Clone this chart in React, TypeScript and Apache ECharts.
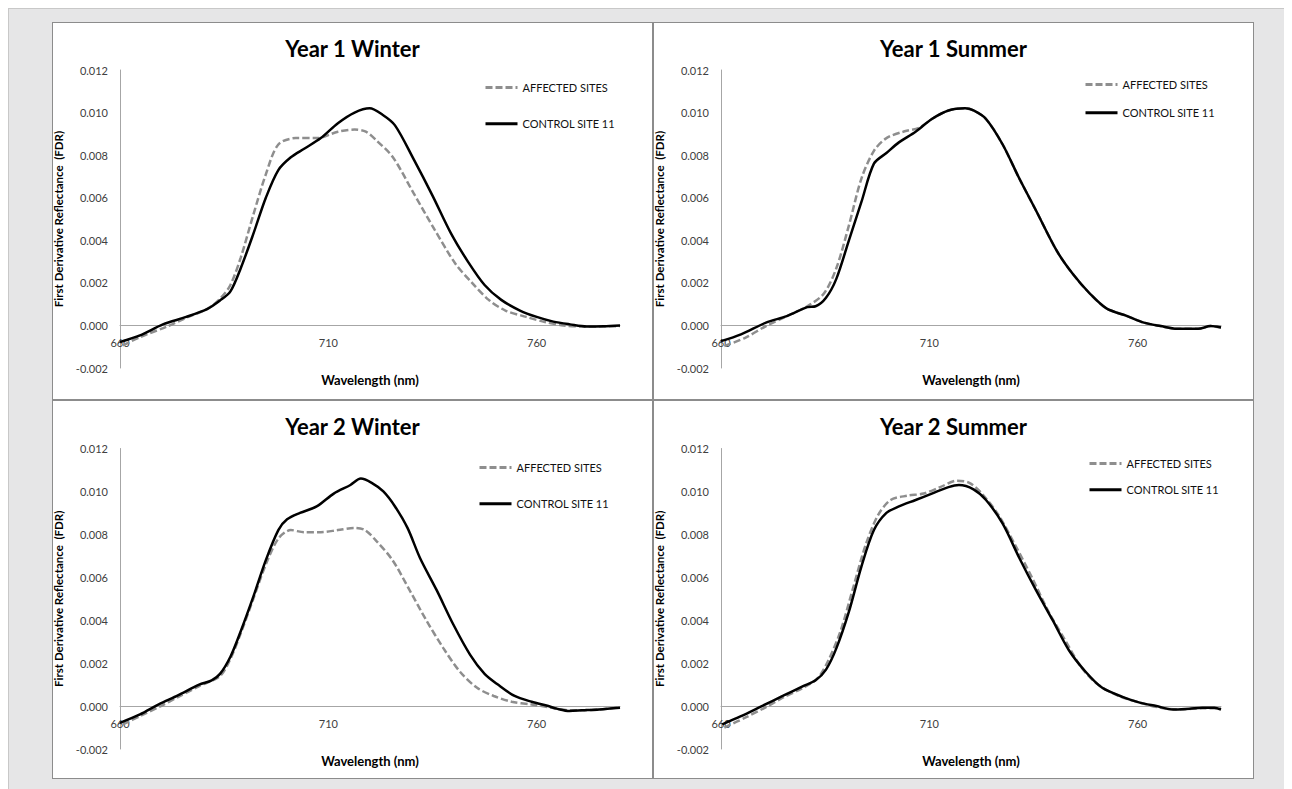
import React, { useEffect, useRef } from "react";
import * as echarts from "echarts";

const FONT = "Lato, 'Open Sans', sans-serif";
const X_LABELS = [660, 710, 760];
const X_MIN = 660;
const X_MAX = 780;
const Y_MIN = -0.002;
const Y_MAX = 0.012;
const Y_STEP = 0.002;
const SERIES_NAMES = ["AFFECTED SITES", "CONTROL SITE 11"];
const TITLES = ["Year 1 Winter", "Year 1 Summer", "Year 2 Winter", "Year 2 Summer"];

// [wavelength nm, FDR]
const Y1W_AFFECTED: [number, number][] = [
  [660.7, -0.00094], [664.8, -0.00055], [671.3, -0.00005], [675.9, 0.00036], [681, 0.00078],
  [684, 0.00125], [686.5, 0.0019], [689, 0.0032], [692, 0.0052], [695, 0.0071], [698, 0.0085],
  [702.2, 0.0088], [707.2, 0.0088], [712.3, 0.0091], [716.3, 0.0092], [719, 0.0091],
  [721.5, 0.0087], [725.5, 0.0079], [730.5, 0.0062], [735.5, 0.0045], [740.5, 0.0029],
  [744.5, 0.002], [748.5, 0.0012], [752.5, 0.0007], [757.5, 0.0004], [762, 0.00016],
  [766.5, 0.0], [770.9, -0.00005], [775, -0.00005], [780, -0.00003],
];
const Y1W_CONTROL: [number, number][] = [
  [660, -0.00078], [664.8, -0.00047], [670.3, 0.00005], [675.9, 0.0004], [681, 0.00078],
  [684, 0.00117], [686.5, 0.0016], [689, 0.0027], [692, 0.0043], [695, 0.006], [698, 0.0073],
  [701, 0.0079], [704.2, 0.0083], [708.2, 0.0088], [712.3, 0.0095], [716.3, 0.01],
  [719.9, 0.0102], [723, 0.0099], [726, 0.0094], [730.5, 0.0078], [735, 0.0061],
  [739.5, 0.0043], [743.5, 0.003], [747.5, 0.0019], [751.5, 0.0012], [756, 0.0007],
  [760, 0.0004], [764, 0.00018], [768, 0.00005], [772, -0.00005], [776, -0.00004], [780, 0.0],
];
const Y1S_AFFECTED: [number, number][] = [
  [660.8, -0.00097], [665.8, -0.00058], [670.8, -0.00003], [675.8, 0.00044], [680.7, 0.0009],
  [684.7, 0.0015], [687.7, 0.0027], [690.7, 0.0047], [693.7, 0.0069], [696.7, 0.0082],
  [699.7, 0.0088], [703.7, 0.0091], [707.7, 0.0093], [710.6, 0.0097], [714.6, 0.0101],
  [718.6, 0.0102], [720.6, 0.0101], [723.6, 0.0097], [727.6, 0.0085], [731.6, 0.0069],
  [735.6, 0.0054], [740.6, 0.0035], [744.5, 0.0024], [748.5, 0.0015], [752.5, 0.0008],
  [757.5, 0.00044], [761.5, 0.00013], [765.5, -0.00003], [769.5, -0.00016], [774.5, -0.00016],
  [777.5, -0.00003], [780, -0.0001],
];
const Y1S_CONTROL: [number, number][] = [
  [660, -0.00074], [664.8, -0.00042], [670.8, 0.00013], [675.8, 0.00044], [680.7, 0.00086],
  [682.7, 0.0009], [685.2, 0.0013], [687.7, 0.0022], [690.7, 0.004], [693.7, 0.0058],
  [696.7, 0.0076], [699.7, 0.0081], [702.7, 0.0086], [706.7, 0.0091], [710.6, 0.0097],
  [714.6, 0.0101], [718.6, 0.0102], [720.6, 0.0101], [723.6, 0.0097], [727.6, 0.0085],
  [731.6, 0.0069], [735.6, 0.0054], [740.6, 0.0035], [744.5, 0.0024], [748.5, 0.0015],
  [752.5, 0.0008], [757.5, 0.00044], [761.5, 0.00013], [765.5, -0.00003], [769.5, -0.00016],
  [774.5, -0.00016], [777.5, -0.00003], [780, -0.0001],
];
const Y2W_AFFECTED: [number, number][] = [
  [660.7, -0.00085], [664.8, -0.00047], [669.8, 0.0], [673.9, 0.00042], [679, 0.00093],
  [684, 0.0014], [686.5, 0.0022], [689, 0.0034], [692, 0.005], [695, 0.0066], [698, 0.0078],
  [701, 0.0082], [704.2, 0.0081], [708.2, 0.0081], [712.3, 0.0082], [716.3, 0.0083],
  [718.8, 0.0082], [721.5, 0.0077], [725.4, 0.0068], [729.5, 0.0054], [733.5, 0.004],
  [737.6, 0.0027], [741.6, 0.0016], [745.7, 0.00085], [749.7, 0.00047], [754, 0.0002],
  [758.5, 0.00008], [762.8, -0.00005], [767.9, -0.0002], [775, -0.00016], [780, -0.00005],
];
const Y2W_CONTROL: [number, number][] = [
  [660, -0.00078], [664.8, -0.00039], [669.3, 0.00008], [673.9, 0.0005], [679, 0.001],
  [682, 0.0012], [684, 0.0015], [686.5, 0.0023], [689, 0.0035], [692, 0.0051], [695, 0.0068],
  [698, 0.0082], [700.1, 0.0087], [703.2, 0.009], [707.2, 0.0093], [711.3, 0.0099],
  [715.3, 0.0103], [717.8, 0.0106], [720.4, 0.0104], [723.2, 0.01], [726, 0.0093],
  [729, 0.0083], [732, 0.0069], [736, 0.0054], [740, 0.0038], [744, 0.0024],
  [747.5, 0.0015], [750.7, 0.001], [754.7, 0.00047], [758.8, 0.0002], [762.8, 0.0],
  [764.8, -0.00012], [767.9, -0.00023], [770.9, -0.0002], [775, -0.00016], [780, -0.00008],
];
const Y2S_AFFECTED: [number, number][] = [
  [660.8, -0.001], [665.8, -0.00054], [670.8, -0.00005], [674.8, 0.00039], [679.7, 0.00085],
  [683.2, 0.0013], [685.7, 0.0021], [688.7, 0.0035], [691.7, 0.0055], [694.7, 0.0075],
  [697.7, 0.0089], [700.7, 0.0096], [704.7, 0.0098], [708.6, 0.0099], [712.6, 0.0102],
  [716.6, 0.0105], [719.6, 0.0104], [722.6, 0.0099], [726.6, 0.0089], [730.6, 0.0075],
  [734.6, 0.006], [738.6, 0.0044], [742.5, 0.0031], [746.5, 0.0018], [750.5, 0.001],
  [755.5, 0.00047], [760.5, 0.00016], [765.5, -0.00008], [770.5, -0.00016], [775.5, -0.0001],
  [780, -0.00011],
];
const Y2S_CONTROL: [number, number][] = [
  [660.3, -0.00085], [664.8, -0.00047], [669.8, 0.0], [674.8, 0.00047], [679.7, 0.00093],
  [682.7, 0.0012], [685.2, 0.0017], [687.7, 0.0027], [690.7, 0.0044], [693.7, 0.0065],
  [696.7, 0.0082], [699.7, 0.009], [702.7, 0.0093], [706.7, 0.0096], [710.6, 0.0099],
  [714.6, 0.0102], [717.1, 0.0103], [720.6, 0.0101], [723.6, 0.0096], [727.6, 0.0085],
  [731.6, 0.0069], [735.6, 0.0054], [739.6, 0.004], [743.5, 0.0026], [747.5, 0.0016],
  [751.5, 0.00085], [756.5, 0.00042], [760.5, 0.00016], [764.5, 0.0], [768.5, -0.00016],
  [772.5, -0.00012], [775.5, -0.00008], [778.4, -0.00008], [780, -0.00016],
];

type Pt = [number, number];
interface PanelCfg {
  title: string;
  affected: Pt[];
  control: Pt[];
  left: number;
  top: number;
  height: number;
  gridTop: number;
  gridH: number;
  legendLeft: number;
  legendTop: number;
  legendGap: number;
}

const PANELS: PanelCfg[] = [
  { title: TITLES[0], affected: Y1W_AFFECTED, control: Y1W_CONTROL, left: 43, top: 13, height: 378, gridTop: 47, gridH: 298, legendLeft: 431, legendTop: 59, legendGap: 25 },
  { title: TITLES[1], affected: Y1S_AFFECTED, control: Y1S_CONTROL, left: 644, top: 13, height: 378, gridTop: 47, gridH: 298, legendLeft: 430, legendTop: 56, legendGap: 17 },
  { title: TITLES[2], affected: Y2W_AFFECTED, control: Y2W_CONTROL, left: 43, top: 391, height: 379, gridTop: 47.5, gridH: 300.5, legendLeft: 425, legendTop: 61, legendGap: 25 },
  { title: TITLES[3], affected: Y2S_AFFECTED, control: Y2S_CONTROL, left: 644, top: 391, height: 379, gridTop: 47.5, gridH: 300.5, legendLeft: 434, legendTop: 57, legendGap: 15 },
];

function Panel({ cfg }: { cfg: PanelCfg }) {
  const ref = useRef<HTMLDivElement>(null);
  useEffect(() => {
    if (!ref.current) return;
    const chart = echarts.init(ref.current, undefined, { renderer: "svg" });
    // x axis sits on the zero line of the value axis
    const zeroOffset = -cfg.gridH * ((0 - Y_MIN) / (Y_MAX - Y_MIN));
    chart.setOption({
      animation: false,
      backgroundColor: "#ffffff",
      title: {
        text: cfg.title,
        left: "center",
        top: 14,
        padding: 0,
        textStyle: { fontFamily: FONT, fontSize: 22, fontWeight: "bold", color: "#000" },
      },
      legend: {
        data: SERIES_NAMES,
        orient: "vertical",
        left: cfg.legendLeft,
        top: cfg.legendTop,
        padding: 0,
        itemWidth: 32,
        itemHeight: 14,
        itemGap: cfg.legendGap,
        selectedMode: false,
        itemStyle: { opacity: 0 },
        lineStyle: { width: 3 },
        textStyle: { fontFamily: FONT, fontSize: 11, color: "#111" },
      },
      grid: { left: 67, top: cfg.gridTop, width: 500, height: cfg.gridH, outerBoundsMode: "none", containLabel: false },
      xAxis: {
        type: "value",
        position: "bottom",
        offset: zeroOffset,
        min: X_MIN,
        max: X_MAX,
        interval: 10,
        name: "Wavelength (nm)",
        nameLocation: "middle",
        nameGap: 48,
        nameTextStyle: { fontFamily: FONT, fontSize: 13, fontWeight: "bold", color: "#000" },
        axisLine: { onZero: false, lineStyle: { color: "#a6a6a6", width: 1 } },
        axisTick: { show: false },
        splitLine: { show: false },
        axisLabel: {
          margin: 12,
          fontFamily: FONT,
          fontSize: 11,
          color: "#404040",
          showMinLabel: true,
          showMaxLabel: false,
          formatter: (v: number) => (X_LABELS.includes(Math.round(v)) ? String(Math.round(v)) : ""),
        },
      },
      yAxis: {
        type: "value",
        min: Y_MIN,
        max: Y_MAX,
        interval: Y_STEP,
        name: "First Derivative Reflectance  (FDR)",
        nameLocation: "middle",
        nameGap: 42,
        nameTextStyle: { fontFamily: FONT, fontSize: 11.5, fontWeight: "bold", color: "#000" },
        axisLine: { show: true, onZero: false, lineStyle: { color: "#a6a6a6", width: 1 } },
        axisTick: { show: false },
        splitLine: { show: false },
        axisLabel: {
          margin: 12,
          fontFamily: FONT,
          fontSize: 11,
          color: "#404040",
          formatter: (v: number) => v.toFixed(3),
        },
      },
      series: [
        {
          type: "line",
          name: SERIES_NAMES[0],
          data: cfg.affected,
          symbol: "none",
          smooth: 0.3,
          lineStyle: { color: "#8e8e8e", width: 2.5, type: [7, 3] },
          itemStyle: { color: "#8e8e8e" },
        },
        {
          type: "line",
          name: SERIES_NAMES[1],
          data: cfg.control,
          symbol: "none",
          smooth: 0.3,
          lineStyle: { color: "#000000", width: 2.5 },
          itemStyle: { color: "#000000" },
        },
      ],
    });
    return () => chart.dispose();
  }, [cfg]);
  return (
    <div
      style={{
        position: "absolute",
        left: cfg.left,
        top: cfg.top,
        width: 601,
        height: cfg.height,
        boxSizing: "border-box",
        border: "1px solid #8c8c8c",
        background: "#fff",
      }}
    >
      <div ref={ref} style={{ width: 599, height: cfg.height - 2 }} />
    </div>
  );
}

export default function App() {
  return (
    <div
      style={{
        position: "relative",
        width: 1284,
        height: 781,
        background: "#e6e6e7",
        borderTop: "1px solid #c8c8c8",
        borderLeft: "1px solid #c8c8c8",
        boxSizing: "border-box",
      }}
    >
      {PANELS.map((p) => (
        <Panel key={p.title} cfg={p} />
      ))}
    </div>
  );
}
